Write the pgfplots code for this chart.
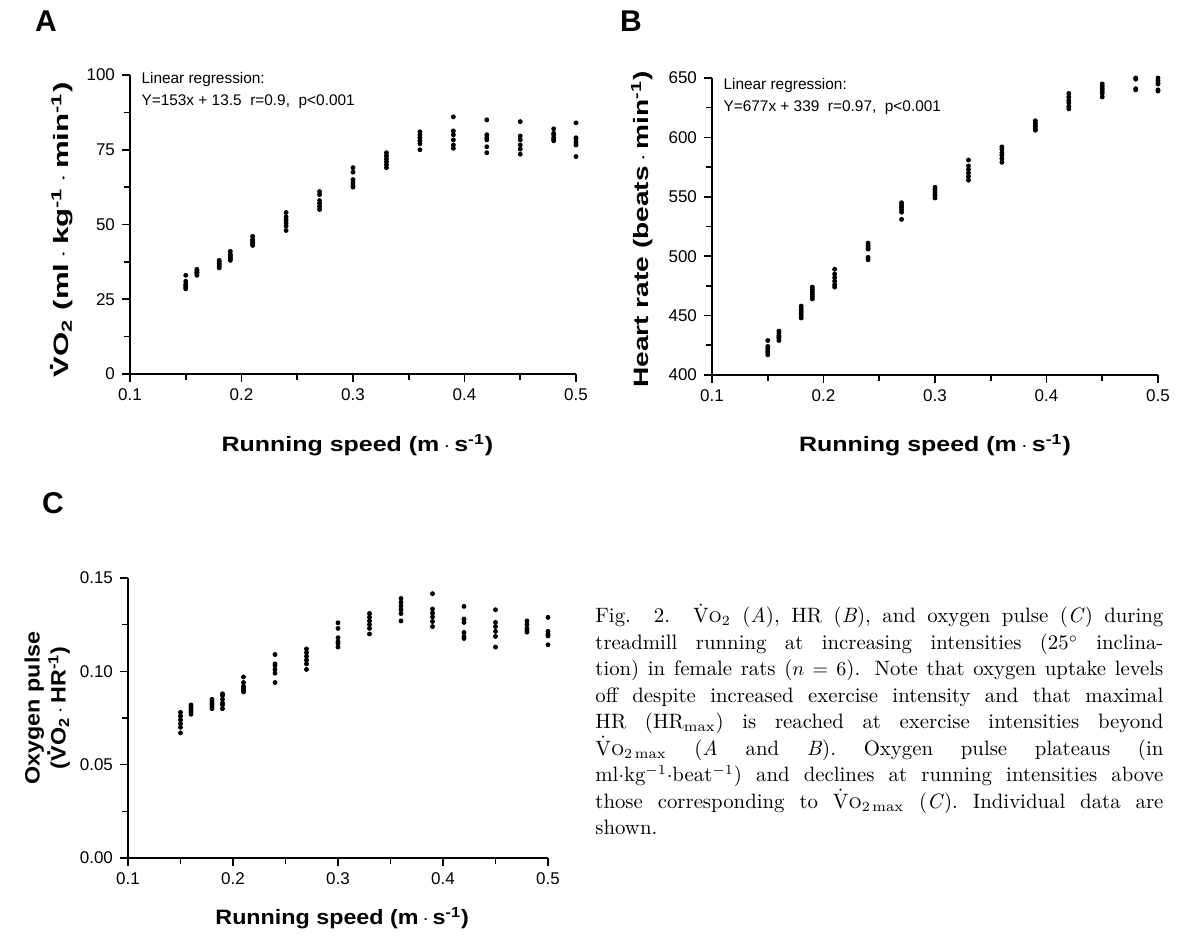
\documentclass[border=0pt]{standalone}
\usepackage{fontspec}
\setsansfont{Liberation Sans}
\usepackage{graphicx}
\usepackage{pgfplots}
\pgfplotsset{compat=1.18}

% dotted V for the axis labels
\newcommand{\Vdot}{\ooalign{V\cr\hidewidth\raisebox{0.74em}{.}\hidewidth\cr}}
\newcommand{\capV}{\smash{\ensuremath{\dot{\mathrm{V}}}}\textsc{o}}
\newcommand{\cd}{\,$\cdot$\,}

\pgfplotsset{
  panel/.style={
    scale only axis,
    anchor=south west,
    axis x line*=bottom, axis y line*=left,
    tick align=outside,
    major tick length=4pt, minor tick length=3pt,
    axis line style={line width=0.9pt},
    every tick/.style={black, line width=0.8pt},
    minor x tick num=1, minor y tick num=1,
    xmin=0.1, xmax=0.5, xtick={0.1,0.2,0.3,0.4,0.5},
    clip=false,
    /pgf/number format/assume math mode=true,
    tick label style={font=\sffamily\fontsize{8.5}{10}\selectfont},
    label style={font=\sffamily\bfseries\fontsize{10.4}{13}\selectfont},
  },
  dots/.style={only marks, mark=*, mark size=1pt, black},
}

\begin{document}
\begin{tikzpicture}
\useasboundingbox (0,0) rectangle (588.5pt,468pt);

% panel letters
\node[font=\sffamily\bfseries\fontsize{15}{16}\selectfont] at (23pt,457.5pt) {A};
\node[font=\sffamily\bfseries\fontsize{15}{16}\selectfont] at (315.5pt,457.5pt) {B};
\node[font=\sffamily\bfseries\fontsize{15}{16}\selectfont] at (26.5pt,216.5pt) {C};

% A
\begin{axis}[panel,
  at={(65pt,281pt)}, width=223pt, height=149.5pt,
  ymin=0, ymax=100, ytick={0,25,50,75,100},
  xlabel style={at={(axis description cs:0.51,-0.237)}, anchor=center},
  ylabel style={at={(axis description cs:-0.152,0.482)}, anchor=center},
  xlabel={\scalebox{1.2}[1]{Running speed (m\cd s\textsuperscript{-1})}},
  ylabel={\scalebox{1.5}[1]{\Vdot O\textsubscript{2} (ml\cd kg\textsuperscript{-1}\cd min\textsuperscript{-1})}},
]
\addplot[dots] coordinates {
(0.15,33)(0.15,31)(0.15,30)(0.15,29.5)(0.15,29)(0.15,28.5)
(0.16,35)(0.16,34.5)(0.16,34)(0.16,34)(0.16,33.5)(0.16,33)
(0.18,38)(0.18,37.5)(0.18,37)(0.18,36.5)(0.18,36)(0.18,35.5)
(0.19,41)(0.19,40)(0.19,39.5)(0.19,39)(0.19,38.5)(0.19,38)
(0.21,46)(0.21,45)(0.21,44.5)(0.21,44)(0.21,43.5)(0.21,43)
(0.24,54)(0.24,52.5)(0.24,51.5)(0.24,50.5)(0.24,49.5)(0.24,48)
(0.27,61)(0.27,60)(0.27,58)(0.27,57)(0.27,56)(0.27,55)
(0.30,69)(0.30,67.5)(0.30,65)(0.30,64)(0.30,63)(0.30,62.5)
(0.33,74)(0.33,73)(0.33,72)(0.33,71)(0.33,70)(0.33,69)
(0.36,81)(0.36,80)(0.36,79)(0.36,78)(0.36,77)(0.36,75)
(0.39,86)(0.39,81.3)(0.39,80)(0.39,78.3)(0.39,76.6)(0.39,75.5)
(0.42,85)(0.42,80)(0.42,79)(0.42,78.3)(0.42,76)(0.42,74)
(0.45,84.4)(0.45,79.6)(0.45,78.3)(0.45,76.6)(0.45,75.2)(0.45,73.5)
(0.48,82)(0.48,80.5)(0.48,80)(0.48,79)(0.48,78.5)(0.48,78)
(0.50,84)(0.50,79)(0.50,78.6)(0.50,77.5)(0.50,76.6)(0.50,72.7)
};
\node[anchor=north west, align=left, inner sep=0pt,
  font=\sffamily\fontsize{7.7}{10.8}\selectfont]
  at (axis description cs:0.025,1.01)
  {Linear regression:\\Y=153x + 13.5\ \ r=0.9,\ \ p<0.001};
\end{axis}

% B
\begin{axis}[panel,
  at={(356pt,280.5pt)}, width=223pt, height=148.5pt,
  ymin=400, ymax=650, ytick={400,450,500,550,600,650},
  xlabel style={at={(axis description cs:0.5,-0.236)}, anchor=center},
  ylabel style={at={(axis description cs:-0.157,0.49)}, anchor=center},
  xlabel={\scalebox{1.2}[1]{Running speed (m\cd s\textsuperscript{-1})}},
  ylabel={\scalebox{1.35}[1]{Heart rate (beats\cd min\textsuperscript{-1})}},
]
\addplot[dots] coordinates {
(0.15,429)(0.15,424)(0.15,422)(0.15,420)(0.15,419)(0.15,417)
(0.16,437)(0.16,435)(0.16,433)(0.16,432)(0.16,431)(0.16,429)
(0.18,458)(0.18,456)(0.18,454)(0.18,452)(0.18,450)(0.18,448)
(0.19,474)(0.19,472)(0.19,470)(0.19,468)(0.19,466)(0.19,464)
(0.21,489)(0.21,485)(0.21,482)(0.21,479)(0.21,476)(0.21,474)
(0.24,511)(0.24,509)(0.24,507)(0.24,506)(0.24,499)(0.24,497)
(0.27,545)(0.27,543)(0.27,541)(0.27,539)(0.27,537)(0.27,531)
(0.30,558)(0.30,556)(0.30,554)(0.30,552)(0.30,551)(0.30,549)
(0.33,581)(0.33,576)(0.33,573)(0.33,570)(0.33,567)(0.33,564)
(0.36,592)(0.36,590)(0.36,587)(0.36,585)(0.36,582)(0.36,579)
(0.39,614)(0.39,612)(0.39,610)(0.39,609)(0.39,607)(0.39,606)
(0.42,637)(0.42,634)(0.42,631)(0.42,629)(0.42,626)(0.42,624)
(0.45,645)(0.45,643)(0.45,641)(0.45,639)(0.45,637)(0.45,634)
(0.48,650)(0.48,649)(0.48,641)(0.48,640)
(0.50,650)(0.50,648)(0.50,646)(0.50,645)(0.50,640)(0.50,639)
};
\node[anchor=north west, align=left, inner sep=0pt,
  font=\sffamily\fontsize{7.7}{10.8}\selectfont]
  at (axis description cs:0.025,1.0)
  {Linear regression:\\Y=677x + 339\ \ r=0.97,\ \ p<0.001};
\end{axis}

% C
\begin{axis}[panel,
  at={(64pt,39pt)}, width=210pt, height=140pt,
  ymin=0, ymax=0.15, ytick={0,0.05,0.10,0.15},
  scaled y ticks=false,
  yticklabel style={/pgf/number format/.cd, fixed, fixed zerofill, precision=2},
  xlabel style={at={(axis description cs:0.51,-0.214)}, anchor=center},
  ylabel style={at={(axis description cs:-0.192,0.536)}, anchor=center, align=center},
  xlabel={\scalebox{1.12}[1]{Running speed (m\cd s\textsuperscript{-1})}},
  ylabel={\scalebox{1.12}[1]{Oxygen pulse}\\\scalebox{1.12}[1]{(\Vdot O\textsubscript{2}\cd HR\textsuperscript{-1})}},
]
\addplot[dots] coordinates {
(0.15,0.078)(0.15,0.076)(0.15,0.074)(0.15,0.072)(0.15,0.070)(0.15,0.067)
(0.16,0.082)(0.16,0.081)(0.16,0.080)(0.16,0.079)(0.16,0.078)(0.16,0.077)
(0.18,0.085)(0.18,0.084)(0.18,0.083)(0.18,0.082)(0.18,0.081)(0.18,0.080)
(0.19,0.088)(0.19,0.087)(0.19,0.085)(0.19,0.083)(0.19,0.082)(0.19,0.080)
(0.21,0.097)(0.21,0.094)(0.21,0.092)(0.21,0.091)(0.21,0.090)(0.21,0.089)
(0.24,0.109)(0.24,0.104)(0.24,0.103)(0.24,0.101)(0.24,0.099)(0.24,0.094)
(0.27,0.112)(0.27,0.110)(0.27,0.108)(0.27,0.106)(0.27,0.104)(0.27,0.101)
(0.30,0.126)(0.30,0.123)(0.30,0.118)(0.30,0.116)(0.30,0.115)(0.30,0.113)
(0.33,0.131)(0.33,0.129)(0.33,0.127)(0.33,0.125)(0.33,0.123)(0.33,0.120)
(0.36,0.139)(0.36,0.137)(0.36,0.135)(0.36,0.133)(0.36,0.131)(0.36,0.127)
(0.39,0.1416)(0.39,0.1334)(0.39,0.1312)(0.39,0.1291)(0.39,0.1267)(0.39,0.1240)
(0.42,0.1348)(0.42,0.128)(0.42,0.1262)(0.42,0.1208)(0.42,0.1187)(0.42,0.1176)
(0.45,0.133)(0.45,0.1262)(0.45,0.124)(0.45,0.1214)(0.45,0.1187)(0.45,0.113)
(0.48,0.127)(0.48,0.125)(0.48,0.123)(0.48,0.122)(0.48,0.121)
(0.50,0.1289)(0.50,0.1214)(0.50,0.120)(0.50,0.119)(0.50,0.1142)
};
\end{axis}

% caption
\node[anchor=north west, inner sep=0pt, text width=284pt, align=justify,
  font=\fontsize{10.4}{13.25}\selectfont] at (297.5pt,164.5pt)
{Fig. 2. \capV\(_2\) (\textit{A}), HR (\textit{B}), and oxygen pulse (\textit{C}) during\linebreak
treadmill running at increasing intensities (25\(^\circ\) inclina-\linebreak
tion) in female rats (\(n=6\)). Note that oxygen uptake levels\linebreak
off despite increased exercise intensity and that maximal\linebreak
HR (HR\(_{\mathrm{max}}\)) is reached at exercise intensities beyond\linebreak
\capV\(_{2\,\mathrm{max}}\) (\textit{A} and \textit{B}). Oxygen pulse plateaus (in\linebreak
ml\(\cdot\)kg\(^{-1}\)\(\cdot\)beat\(^{-1}\)) and declines at running intensities above\linebreak
those corresponding to \capV\(_{2\,\mathrm{max}}\) (\textit{C}). Individual data are\linebreak
shown.};
\end{tikzpicture}
\end{document}
